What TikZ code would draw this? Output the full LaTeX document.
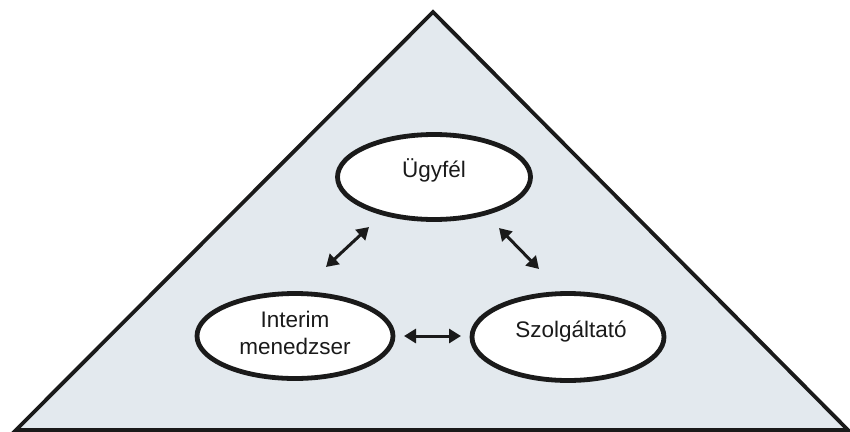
\documentclass[tikz,border=0pt]{standalone}
\usepackage{fontspec}
\setmainfont{Liberation Sans}
\usetikzlibrary{arrows.meta,shapes.geometric}
\definecolor{bgfill}{HTML}{E3E9EE}
\definecolor{ink}{HTML}{1A1A1A}
\tikzset{
  ell/.style={ellipse, draw=ink, line width=4.8pt, fill=white, inner sep=0pt},
  txt/.style={font=\fontsize{22.5}{27}\selectfont, align=center, inner sep=0pt, text=ink},
  dblarrow/.style={draw=ink, line width=3pt, {Triangle[length=12pt,width=14pt]}-{Triangle[length=12pt,width=14pt]}}
}
\begin{document}
\begin{tikzpicture}[x=1pt,y=-1pt]
\useasboundingbox (0,0) rectangle (850,431);
\draw[draw=ink, line width=3.8pt, fill=bgfill, line join=miter] (433,12) -- (848,430) -- (16,430) -- cycle;
\node[ell, minimum width=193pt, minimum height=85pt] (u) at (434,177) {};
\node[ell, minimum width=196pt, minimum height=85pt] (i) at (295,336) {};
\node[ell, minimum width=192pt, minimum height=87pt] (s) at (568,337) {};
\node[txt] (ut) at (434,170) {Ügyfél};
\node[txt] (it) at (295,333) {Interim\\menedzser};
\node[txt] (st) at (571,332) {Szolgáltató};
\coordinate (a1) at (326,267);
\coordinate (a2) at (369,227);
\coordinate (b1) at (499,228);
\coordinate (b2) at (539,269);
\coordinate (c1) at (404,336);
\coordinate (c2) at (461,336);
\draw[dblarrow] (a1) -- (a2);
\draw[dblarrow] (b1) -- (b2);
\draw[dblarrow] (c1) -- (c2);
\end{tikzpicture}
\end{document}
